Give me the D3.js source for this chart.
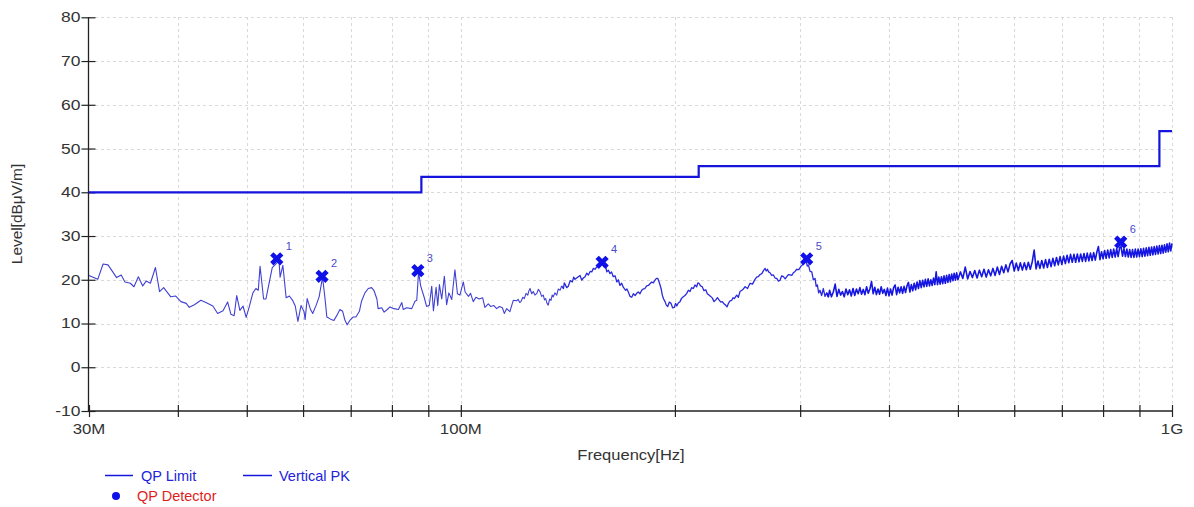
<!DOCTYPE html>
<html><head><meta charset="utf-8">
<script src="https://cdn.jsdelivr.net/npm/d3@7"></script>
<style>
body{margin:0;background:#fff;}
svg{display:block;font-family:"Liberation Sans",Arial,sans-serif;}
</style></head>
<body><svg id="c" width="1194" height="507"></svg>
<script>
// ---- data (frequency in MHz, level in dBµV/m) ----
const yTicks = [-10,0,10,20,30,40,50,60,70,80];
const xGrid = [40,50,60,70,80,90,100,200,300,400,500,600,700,800,900,1000];
const xLabels = [[30,"30M"],[100,"100M"],[1000,"1G"]];

const limitFreq  = [30, 88, 88, 216, 216, 960, 960, 1000];
const limitLevel = [40, 40, 43.5, 43.5, 46, 46, 54, 54];

const markerFreq  = [55.1, 63.8, 87.0, 158.0, 306.4, 847.0];
const markerLevel = [24.8, 20.8, 22.1, 24.0, 24.8, 28.6];
const markerLabel = ["1","2","3","4","5","6"];

const traceLow = [
[30,21.0],[30.86,20.1],[31.4,23.6],[31.9,23.4],[32.4,21.8],[32.8,20.5],[33.3,21.1],[33.7,19.5],[34.3,19.2],[34.7,18.4],
[35.2,20.7],[35.7,18.6],[36.1,19.7],[36.6,19.2],[37.2,22.8],[37.7,17.3],[38.2,18.2],[39.1,16.1],[39.7,16.3],[40.4,15.0],
[41.1,14.6],[41.5,13.7],[42.2,14.3],[43.1,15.3],[43.8,14.8],[44.8,14.0],[45.5,12.3],[46.3,12.9],[47.0,14.9],[47.5,12.1],
[48.0,11.8],[48.4,16.4],[48.9,13.0],[49.4,14.0],[49.9,11.4],[50.4,13.8],[51.0,17.0],[51.5,18.0],[51.9,17.6],[52.2,23.1],
[52.8,15.6],[53.2,15.6],[53.7,18.9],[54.3,22.8],[55.0,23.7],[55.5,24.3],[55.7,20.6],[56.2,23.3],[56.8,15.9],[57.4,16.3],
[58.0,15.3],[58.5,14.0],[59.0,10.5],[59.6,14.1],[60.2,12.7],[60.4,10.9],[60.8,15.7],[61.4,13.4],[61.9,12.3],[62.6,14.2],
[63.2,16.1],[63.9,20.6],[64.4,15.9],[64.8,11.5],[65.6,11.0],[66.3,10.7],[66.9,11.8],[67.6,13.2],[68.2,12.8],[68.7,10.8],
[69.2,9.7],[69.8,10.7],[70.6,11.5],[71.2,11.5],[72.0,12.8],[72.5,15.1],[73.3,17.0],[74.1,18.0],[74.9,18.2],[75.5,17.5],
[76.2,15.6],[76.5,13.4],[77.4,13.6],[78.0,12.6],[78.8,13.2],[79.5,13.8],[80.5,13.4],[81.7,13.2],[82.6,14.8],[83.0,13.2],
[83.9,13.6],[85.3,13.4],[86.2,15.1],[86.7,15.3],[87.2,21.8],[87.8,18.6],[88.8,16.0],[89.5,13.9],[90.3,14.2],[91.0,18.5],
[91.5,12.9],[92.3,18.3],[92.8,14.1],[93.3,18.9],[94.0,15.6],[94.8,20.8],[95.5,14.3],[96.2,17.0],[97.1,15.5],[98.1,22.3],
[98.9,16.8],[99.7,16.5],[100.8,19.5],[101.4,17.2],[102.5,16.2],[103.2,16.9],[104.1,15.0],[105.0,16.0],[106.1,15.6],[107.3,15.9],
[108.1,13.7],[109.3,14.5],[110.1,13.9],[111.3,14.1],[112.3,13.4],[113.3,13.9],[114.4,13.6],[115.1,12.3],[116.0,13.4],[117.2,12.7],
[118.5,15.3],[119.8,15.2]
];
const traceMid = [
[120.4,15.5],[121.0,14.8],[121.5,15.0],[122.2,16.0],[122.8,15.7],[123.5,16.9],[124.2,16.5],[124.6,17.4],[125.1,18.0],[125.8,16.8],
[126.4,17.3],[127.1,16.5],[127.9,16.9],[128.5,17.8],[129.2,17.3],[129.9,16.2],[130.6,16.5],[131.1,15.4],[131.6,15.7],[132.2,14.6],
[132.7,14.2],[133.3,15.6],[133.9,15.3],[134.4,16.5],[134.9,16.1],[135.6,17.0],[136.4,16.5],[137.1,17.9],[137.9,17.6],[138.6,18.6],
[139.4,18.0],[139.8,19.3],[140.1,19.0],[140.9,18.2],[141.6,18.5],[142.5,19.8],[143.5,19.5],[144.1,20.6],[144.7,20.1],[145.5,20.4],
[146.3,20.7],[147.1,21.0],[147.9,19.9],[148.7,20.4],[149.5,20.7],[150.3,21.5],[151.1,21.1],[152.0,21.9],[152.8,21.8],[153.6,22.6],
[154.4,22.4],[155.2,22.9],[156.1,23.1],[156.8,23.5],[157.4,23.9],[158.2,23.4],[159.1,22.9],[159.8,23.0],[160.4,21.8],[161.2,22.2],
[162.1,21.4],[162.9,21.8],[163.8,20.7],[164.8,20.9],[165.7,19.5],[166.5,20.0],[167.4,18.7],[168.3,19.2],[169.2,18.3],[169.9,17.9],
[170.5,17.6],[171.2,17.9],[172.0,17.2],[172.9,16.2],[173.9,16.0],[174.8,16.8],[175.8,16.4],[176.7,16.9],[177.6,17.2],[178.6,16.8],
[179.6,17.6],[180.5,17.9],[181.5,18.0],[182.5,18.6],[183.5,18.7],[184.5,19.1],[185.5,19.5],[186.5,19.3],[187.5,19.9],[188.4,20.3],
[189.2,20.3],[189.9,19.6],[190.6,18.8],[191.3,17.9],[192.0,16.5],[192.8,15.6],[193.7,15.0],[194.5,14.2],[195.4,13.9],[196.4,14.9],
[197.5,14.6],[198.5,13.6],[199.6,13.7],[200.4,14.6],[201.2,14.0],[202.2,14.7],[203.3,15.0],[204.4,15.8],[205.5,16.1],[206.6,16.4],
[207.8,16.9],[208.9,17.6],[210.0,17.3],[211.1,18.2],[212.3,18.0],[213.4,18.8],[214.6,18.4],[215.4,19.3],[216.2,19.2],[217.3,18.6],
[218.5,18.4],[219.7,17.5],[221.0,17.7],[222.1,16.8],[223.3,16.5],[224.5,16.2],[225.8,15.8],[227.0,15.0],[228.3,15.4],[229.5,15.9],
[230.7,15.4],[232.0,14.9],[233.2,15.0],[234.4,14.5],[235.7,14.2],[236.7,13.8],[237.8,14.6],[239.1,15.2],[240.4,15.3],[241.4,15.9],
[242.4,15.7],[244.3,16.5],[245.6,16.0],[246.9,17.3],[249.0,17.7],[251.0,18.4],[253.0,18.0],[255.1,19.2],[257.1,19.0],[259.2,20.1],
[260.6,20.6],[262.0,20.7],[263.5,21.2],[265.0,21.4],[266.4,22.1],[267.8,22.6],[268.8,22.0],[269.8,22.4],[270.9,21.8],[272.1,21.6],
[273.6,21.0],[275.1,21.1],[276.6,20.4],[278.1,20.3],[279.6,19.7],[281.1,19.9],[282.6,20.9],[284.2,20.7],[285.8,20.2],[287.3,20.7],
[288.8,21.2],[290.4,21.1],[292.0,21.0],[293.5,21.6],[295.1,21.9],[296.7,22.4],[298.7,22.3],[300.6,23.0],[302.2,23.4],[303.8,24.2],
[305.0,24.6],[305.8,24.4],[307.0,23.1],[308.1,23.4],[309.8,21.9],[311.5,21.8],[313.1,20.0],[314.8,20.3],[316.0,18.5],[317.2,18.8],
[318.5,17.0],[319.9,17.6],[321.6,16.4],[323.4,18.0],[325.1,16.2],[326.9,17.0],[328.7,16.1]
];
const traceHigh = [
[330,17.6],[332,16.1],[334,17.2],[336,19.0],[338,16.2],[340,17.8],[342,16.5],[344,17.3],[346,16.1],[348,17.9],
[350,16.6],[352,17.7],[354,16.3],[356,18.0],[358,16.4],[360,17.9],[362,16.8],[364,18.2],[366,16.7],[368,17.8],
[370,16.6],[372,18.4],[374,16.9],[376,17.9],[378,19.6],[380,16.8],[382,18.3],[384,16.6],[386,17.9],[388,16.7],
[390,18.4],[392,16.9],[394,17.8],[396,16.4],[398,18.1],[400,16.3],[402,17.9],[404,16.5],[406,18.2],[408,18.8],
[410,16.6],[412,18.3],[414,17.0],[416,18.4],[418,16.9],[420,18.5],[422,17.1],[424,18.6],[426,19.4],[428,17.2],
[430,18.9],[432,17.5],[434,19.2],[436,17.7],[438,19.5],[440,18.0],[442,19.8],[444,18.2],[446,19.9],[448,18.4],
[450,20.1],[452,18.5],[454,20.2],[456,18.6],[458,20.0],[460,18.7],[462,20.4],[464,18.9],[466,21.8],[468,18.9],
[470,20.6],[472,19.0],[474,20.7],[476,19.1],[478,20.9],[480,19.2],[482,21.0],[484,19.4],[486,21.2],[488,19.5],
[490,21.3],[492,19.8],[494,21.5],[496,19.9],[498,21.6],[500,20.0],
[504,21.8],[508,20.3],[512,22.9],[516,20.2],[520,21.9],[524,20.5],[528,22.1],[532,20.4],[536,22.2],[540,20.7],
[544,22.4],[548,20.6],[552,22.3],[556,20.9],[560,22.6],[564,21.0],[568,22.9],[572,21.2],[576,23.1],[580,21.6],
[584,23.4],[588,21.8],[592,23.6],[596,24.4],[600,22.0],[604,23.8],[608,22.1],[612,23.9],[616,22.2],[620,23.9],
[624,22.3],[628,24.0],[632,22.4],[636,24.1],[640,26.8],[644,22.5],[648,24.3],[652,22.6],[656,24.4],[660,22.7],
[664,24.6],[668,22.8],[672,24.7],[676,23.0],[680,24.9],[684,23.2],[688,25.1],[692,23.4],[696,25.3],[700,23.5],
[704,25.4],[708,23.7],[712,25.6],[716,23.9],[720,25.8],[724,24.0],[728,25.8],[732,24.0],[736,25.9],[740,24.1],
[744,25.9],[748,24.2],[752,26.0],[756,24.2],[760,26.1],[764,24.3],[768,26.1],[772,24.4],[776,26.2],[780,24.5],
[784,26.3],[788,27.6],[792,24.6],[796,26.4],[800,24.8],[804,26.7],[808,24.9],[812,26.8],[816,25.0],[820,26.9],
[824,25.1],[828,27.0],[832,25.2],[836,27.1],[840,25.3],[844,27.3],[848,27.6],[852,25.4],[856,27.1],[860,25.3],
[864,27.0],[868,25.2],[872,26.9],[876,25.1],[880,26.9],[884,25.1],[888,27.0],[892,25.2],[896,27.0],[900,25.3],
[904,27.1],[908,25.3],[912,27.2],[916,25.4],[920,27.3],[924,25.5],[928,27.4],[932,25.6],[936,27.5],[940,25.7],
[944,27.6],[948,25.8],[952,27.7],[956,25.9],[960,27.8],[964,26.0],[968,27.9],[972,26.1],[976,28.0],[980,26.3],
[984,28.2],[988,26.4],[992,28.4],[996,26.6],[1000,28.3]
];

// ---- layout ----
const svg = d3.select("#c");
const x = d3.scaleLog().domain([30,1000]).range([89,1172]);
const y = d3.scaleLinear().domain([-10,80]).range([411,17.3]);

// grid
const grid = svg.append("g").attr("stroke","#d9d9d9").attr("stroke-dasharray","3,3").attr("stroke-width",1);
grid.selectAll("line.h").data(yTicks.filter(v=>v>-10)).enter().append("line")
  .attr("x1",89).attr("x2",1172).attr("y1",d=>Math.round(y(d))+0.5).attr("y2",d=>Math.round(y(d))+0.5);
grid.selectAll("line.v").data(xGrid).enter().append("line")
  .attr("x1",d=>Math.round(x(d))+0.5).attr("x2",d=>Math.round(x(d))+0.5).attr("y1",17).attr("y2",411);

// axes
const yAxis = d3.axisLeft(y).tickValues(yTicks).tickSize(6).tickPadding(8).tickFormat(d=>String(d));
const gy = svg.append("g").attr("transform","translate(88.5,0)").call(yAxis);
gy.select(".domain").attr("stroke","#222").attr("stroke-width",1.3).attr("d","M0,17V411");
gy.selectAll(".tick line").attr("x1",-7).attr("x2",7).attr("stroke","#222").attr("stroke-width",1.2);
gy.selectAll(".tick text").attr("font-size",14).attr("fill","#333")
  .attr("font-family","Liberation Sans, Arial, sans-serif")
  .attr("x",-8/1.25).attr("transform","scale(1.25,1)");

const xAxis = d3.axisBottom(x).tickValues(xGrid.concat([30])).tickSize(6).tickFormat("");
const gx = svg.append("g").attr("transform","translate(0,411)").call(xAxis);
gx.select(".domain").attr("stroke","#222").attr("stroke-width",1.3).attr("d","M88.5,0H1172");
gx.selectAll(".tick line").attr("y1",-6).attr("y2",6).attr("stroke","#222").attr("stroke-width",1.2);

svg.append("g").selectAll("text").data(xLabels).enter().append("text")
  .attr("transform",d=>`translate(${x(d[0])},434) scale(1.2,1)`)
  .attr("text-anchor","middle").attr("font-size",14).attr("fill","#333").text(d=>d[1]);

// axis titles
svg.append("text").attr("transform","translate(22,214) rotate(-90) scale(1.1,1)")
  .attr("text-anchor","middle").attr("font-size",14).attr("fill","#333").text("Level[dBμV/m]");
svg.append("text").attr("transform","translate(631,460) scale(1.18,1)")
  .attr("text-anchor","middle").attr("font-size",14).attr("fill","#333").text("Frequency[Hz]");

// limit line
const limitData = limitFreq.map((f,i)=>[f,limitLevel[i]]);
const line = d3.line().x(d=>x(d[0])).y(d=>y(d[1]));
svg.append("path").datum(limitData).attr("d",line).attr("fill","none")
  .attr("stroke","#1414dc").attr("stroke-width",2.2);

// trace
svg.append("path").datum(traceLow.concat(traceMid.slice(0,30))).attr("d",line).attr("fill","none")
  .attr("stroke","#4040d4").attr("stroke-width",1.1).attr("stroke-linejoin","round");
svg.append("path").datum(traceMid.slice(29)).attr("d",line).attr("fill","none")
  .attr("stroke","#2a2adc").attr("stroke-width",1.3).attr("stroke-linejoin","round");
svg.append("path").datum(traceMid.slice(-2).concat(traceHigh)).attr("d",line).attr("fill","none")
  .attr("stroke","#1616e2").attr("stroke-width",1.6).attr("stroke-linejoin","round");

// markers
const sym = d3.symbol().type(d3.symbolCross).size(110);
const mk = svg.append("g");
markerFreq.forEach((f,i)=>{
  mk.append("path").attr("d",sym()).attr("fill","#1010e8")
    .attr("transform",`translate(${x(f)},${y(markerLevel[i])}) rotate(45)`);
  mk.append("text").attr("x",x(f)+9).attr("y",y(markerLevel[i])-9)
    .attr("font-size",11).attr("fill","#4a4ac8").text(markerLabel[i]);
});

// legend
const lg = svg.append("g").attr("font-size",14.5);
lg.append("line").attr("x1",105).attr("x2",133).attr("y1",475.5).attr("y2",475.5).attr("stroke","#1414dc").attr("stroke-width",1.5);
lg.append("text").attr("x",141).attr("y",480.5).attr("fill","#2222dd").text("QP Limit");
lg.append("line").attr("x1",243).attr("x2",272).attr("y1",475.5).attr("y2",475.5).attr("stroke","#1414dc").attr("stroke-width",1.5);
lg.append("text").attr("x",279).attr("y",480.5).attr("fill","#2222dd").text("Vertical PK");
lg.append("circle").attr("cx",116).attr("cy",496).attr("r",4).attr("fill","#1010e8");
lg.append("text").attr("x",137).attr("y",501).attr("fill","#e01e1e").text("QP Detector");
</script></body></html>
